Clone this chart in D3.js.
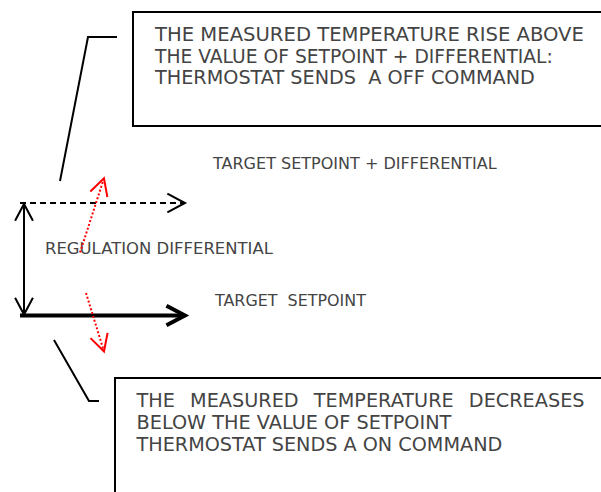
<!DOCTYPE html>
<html>
<head>
<meta charset="utf-8">
<script src="https://cdn.jsdelivr.net/npm/d3@7"></script>
<style>
  html, body { margin: 0; padding: 0; background: #fff; }
  svg { display: block; }
  text { font-family: "DejaVu Sans", "Open Sans", sans-serif; font-weight: 400; fill: #444; }
</style>
</head>
<body>
<svg width="601" height="492"></svg>
<script>
'use strict';

// temperature levels (setpoint and setpoint + differential), time axis 0..10
var setpoint = 20;
var differential = 1;
var levels = [setpoint + differential, setpoint];
var levelStyles = ["dashed", "solid"];
var levelLabels = ["TARGET SETPOINT + DIFFERENTIAL", "TARGET  SETPOINT"];
var diffLabel = "REGULATION DIFFERENTIAL";

// measured temperature moves (red dotted arrows): [t0, temp0, t1, temp1]
var riseMove = [3.64, 20.56, 5.09, 21.22];
var fallMove = [4.0, 20.2, 5.09, 19.68];

var offLines = ["THE MEASURED TEMPERATURE RISE ABOVE",
                "THE VALUE OF SETPOINT + DIFFERENTIAL:",
                "THERMOSTAT SENDS  A OFF COMMAND"];
var onLines = ["THE MEASURED TEMPERATURE DECREASES",
               "BELOW THE VALUE OF SETPOINT",
               "THERMOSTAT SENDS A ON COMMAND"];

// put text so it spans `width`: scale the font, or stretch the word gaps if a size is given
function fitText(g, str, x, y, width, size) {
  var t = g.append("text").attr("x", x).attr("y", y)
    .attr("font-size", size || 16).style("white-space", "pre").text(str);
  var len = t.node().getComputedTextLength();
  if (size) {
    var gaps = str.split(" ").length - 1;
    t.attr("word-spacing", (width - len) / gaps);
  } else {
    t.attr("font-size", 16 * width / len);
  }
  return t;
}

class Diagram {
  constructor() {
    this.svg = d3.select("svg");
    this.x = d3.scaleLinear().domain([0, 10]).range([20, 185]);
    this.y = d3.scaleLinear().domain([setpoint, setpoint + differential]).range([315.5, 203]);
  }

  draw() {
    this.drawLevels();
    this.drawDifferential();
    this.drawMoves();
    this.drawBoxes();
  }

  // open chevron head at (tx,ty) pointing along (dx,dy)
  head(g, tx, ty, dx, dy, len, color, w) {
    var a = Math.atan2(-dy, -dx), s = 28 * Math.PI / 180;
    var p = [[tx + len * Math.cos(a + s), ty + len * Math.sin(a + s)],
             [tx, ty],
             [tx + len * Math.cos(a - s), ty + len * Math.sin(a - s)]];
    g.append("path")
      .attr("d", d3.line()(p))
      .attr("fill", "none")
      .attr("stroke", color)
      .attr("stroke-width", w)
      .attr("stroke-linejoin", "miter");
  }

  drawLevels() {
    var $this = this;
    var g = this.svg.append("g").attr("class", "levels");
    levels.forEach(function(v, i) {
      var y = $this.y(v), x0 = $this.x(0), x1 = $this.x(10);
      var w = levelStyles[i] == "dashed" ? 2 : 4;
      g.append("line")
        .attr("x1", x0).attr("x2", x1 - 2)
        .attr("y1", y).attr("y2", y)
        .attr("stroke", "#000")
        .attr("stroke-width", w)
        .attr("stroke-dasharray", levelStyles[i] == "dashed" ? "6,4" : null);
      $this.head(g, x1, y, 1, 0, levelStyles[i] == "dashed" ? 20 : 21, "#000", w);
    });

    fitText(g, levelLabels[0], 213, 169, 284);
    fitText(g, levelLabels[1], 215, 305.5, 151);
  }

  drawDifferential() {
    var g = this.svg.append("g").attr("class", "differential");
    var x = 24, yTop = this.y(setpoint + differential) + 1, yBot = this.y(setpoint) - 1;
    g.append("line")
      .attr("x1", x).attr("x2", x)
      .attr("y1", yTop).attr("y2", yBot)
      .attr("stroke", "#000").attr("stroke-width", 2);
    this.head(g, x, yTop, 0, -1, 19, "#000", 2);
    this.head(g, x, yBot, 0, 1, 19, "#000", 2);

    fitText(g, diffLabel, 45, 254, 228);
  }

  drawMoves() {
    var $this = this;
    var g = this.svg.append("g").attr("class", "moves");
    [riseMove, fallMove].forEach(function(m) {
      var x0 = $this.x(m[0]), y0 = $this.y(m[1]), x1 = $this.x(m[2]), y1 = $this.y(m[3]);
      g.append("line")
        .attr("x1", x0).attr("y1", y0)
        .attr("x2", x1).attr("y2", y1)
        .attr("stroke", "red").attr("stroke-width", 2)
        .attr("stroke-dasharray", "2,2");
      $this.head(g, x1, y1, x1 - x0, y1 - y0, 19, "red", 2);
    });
  }

  drawBoxes() {
    var g = this.svg.append("g").attr("class", "boxes");

    // OFF box + leader
    g.append("rect").attr("x", 133).attr("y", 12).attr("width", 520).attr("height", 114)
      .attr("fill", "none").attr("stroke", "#000").attr("stroke-width", 2);
    g.append("path").attr("d", d3.line()([[117, 37], [88, 37], [60, 181]]))
      .attr("fill", "none").attr("stroke", "#000").attr("stroke-width", 2);
    var offWidths = [429, 398, 380];
    offLines.forEach(function(t, i) {
      fitText(g, t, 155, 41 + i * 21.5, offWidths[i]);
    });

    // ON box + leader; first line is justified at the size of the others
    g.append("rect").attr("x", 115).attr("y", 378).attr("width", 520).attr("height", 150)
      .attr("fill", "none").attr("stroke", "#000").attr("stroke-width", 2);
    g.append("path").attr("d", d3.line()([[54, 340], [89, 401], [99, 401]]))
      .attr("fill", "none").attr("stroke", "#000").attr("stroke-width", 2);
    var onWidths = [448, 315, 366];
    var sizes = [1, 2].map(function(i) {
      return +fitText(g, onLines[i], 136.5, 407 + i * 22, onWidths[i]).attr("font-size");
    });
    fitText(g, onLines[0], 136.5, 407, onWidths[0], d3.mean(sizes));
  }
}

var diagram = new Diagram();
diagram.draw();
</script>
</body>
</html>
